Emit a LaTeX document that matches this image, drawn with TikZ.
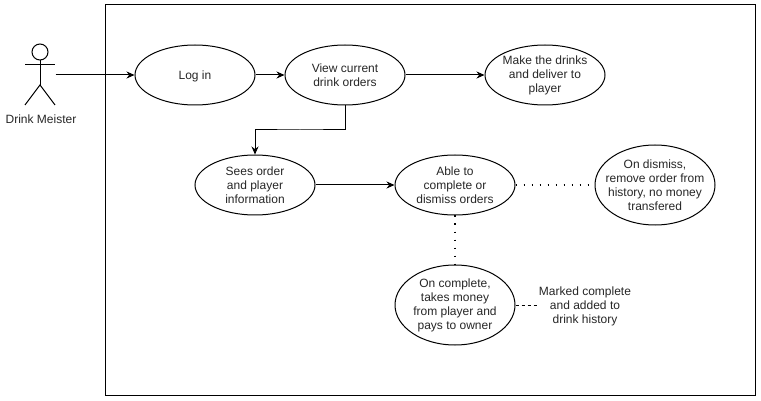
\documentclass[tikz,border=0pt]{standalone}
\usepackage{fontspec}
\setmainfont{Liberation Sans}
\usetikzlibrary{arrows.meta,shapes.geometric}

\tikzset{
    usecase/.style={draw,ellipse,inner sep=-10pt,minimum width=120pt,minimum height=60pt,align=center,font=\fontsize{12}{14}\selectfont,text=black!85,execute at begin node={\rule{0pt}{11.5pt}}},
    plain/.style={inner sep=0pt,align=center,font=\fontsize{12}{14}\selectfont,text=black!85},
    link/.style={-{Stealth[length=8pt,width=7pt]}},
    dots/.style={line width=1.7pt,dash pattern=on 1.7pt off 6.3pt},
}

\begin{document}
\begin{tikzpicture}[x=1pt,y=-1pt,line width=1pt]
        \useasboundingbox (0,0) rectangle (761,401);
        \draw (105,5) rectangle (755,395);
        \node[inner sep=0pt,minimum width=30pt,minimum height=60pt] (actor) at (40,75) {};
        \draw (40,52) circle (8);
        \draw (40,60) -- (40,85);
        \draw (25,65) -- (55,65);
        \draw (25,105) -- (40,85) -- (55,105);
        \node[plain] (meister) at (41,119) {Drink Meister};
        \node[usecase] (login) at (195,75) {Log in};
        \node[usecase] (view) at (345,75) {View current\\drink orders};
        \node[usecase] (make) at (545,75) {Make the drinks\\and deliver to\\player};
        \node[usecase] (sees) at (255,185) {Sees order\\and player\\information};
        \node[usecase] (able) at (455,185) {Able to\\complete or\\dismiss orders};
        \node[usecase,minimum height=80pt] (dismiss) at (655,185) {On dismiss,\\remove order from\\history, no money\\transfered};
        \node[usecase,minimum height=80pt] (complete) at (455,305) {On complete,\\takes money\\from player and\\pays to owner};
        \node[plain] (marked) at (585,306) {Marked complete\\and added to\\drink history};
        \coordinate (turn) at (300,130);
        \draw[link] (actor.east) -- (login);
        \draw[link] (login) -- (view);
        \draw[link] (view) -- (make);
        \draw[link] (view.south) |- (turn) -| (sees.north);
        \draw[link] (sees) -- (able);
        \draw[dots] (able) -- (dismiss);
        \draw[dots] (able) -- (complete);
        \draw[dashed,dash pattern=on 3pt off 3pt] (complete.east) -- (marked.west |- complete.east);
    \end{tikzpicture}
\end{document}
